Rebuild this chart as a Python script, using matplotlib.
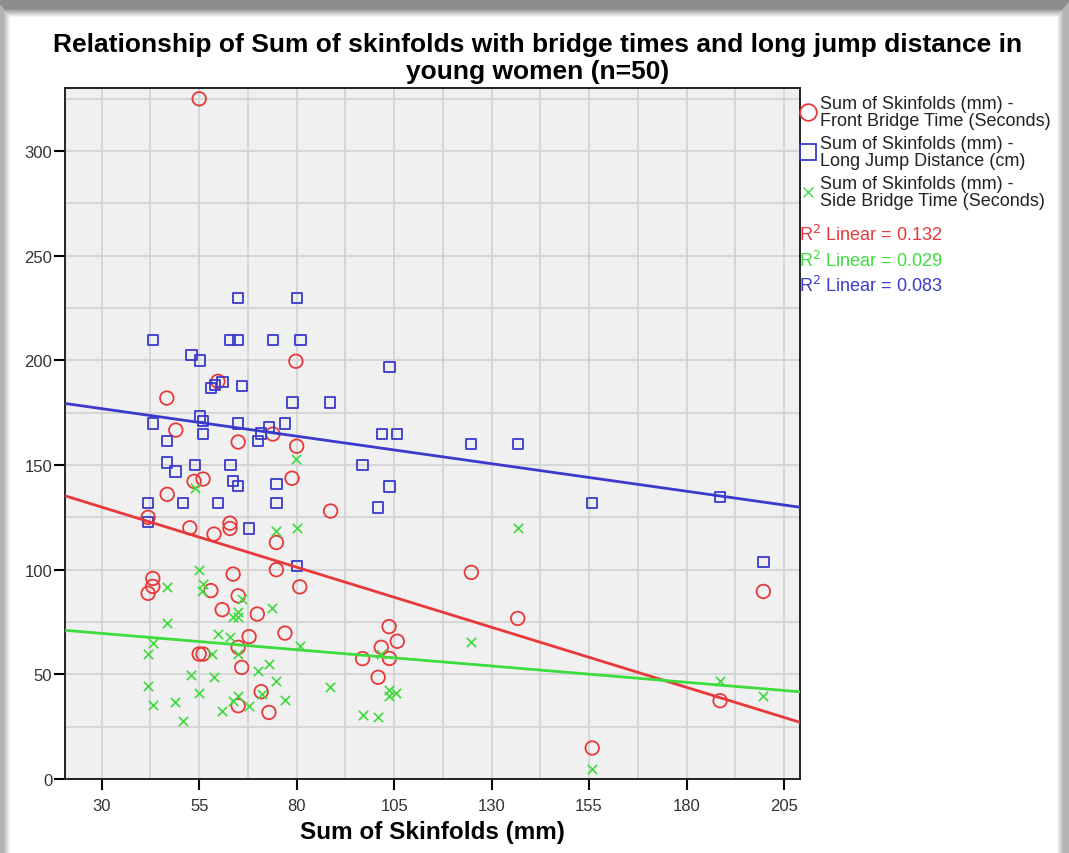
import numpy as np
import matplotlib
matplotlib.use("Agg")
import matplotlib.pyplot as plt
from matplotlib.lines import Line2D

plt.rcParams["font.family"] = ["Liberation Sans", "DejaVu Sans"]

# Front bridge time (s) vs sum of skinfolds (mm)
front_x = [55, 46.7, 49, 59.8, 79.8, 65, 73.9, 80, 78.8, 88.7, 46.8, 56, 53.7, 52.6, 41.9,
           58.8, 62.9, 62.9, 74.8, 74.8, 80.8, 43.1, 43.1, 41.9, 58, 63.7, 65, 60.9, 69.9,
           77, 67.8, 65, 55, 56, 65.9, 70.9, 65, 72.9, 124.8, 136.7, 103.7, 105.8, 101.7,
           96.9, 103.8, 100.9, 199.7, 188.6, 155.8]
front_y = [325, 182, 166.7, 190, 199.6, 161, 164.8, 159, 143.7, 128, 136, 143.3, 142.2, 120,
           125, 117, 122.2, 119.7, 113, 100, 91.8, 95.8, 92, 88.7, 90, 97.9, 87.5, 80.9, 78.8,
           69.7, 68, 62.9, 59.7, 59.7, 53.3, 41.7, 35, 31.8, 98.7, 76.7, 72.8, 65.8, 62.9,
           57.5, 57.6, 48.6, 89.6, 37.4, 14.8]

# Long jump distance (cm)
jump_x = [65, 80, 43.1, 62.9, 65, 74, 81, 53, 55.2, 58, 59, 61, 65.9, 78.9, 88.6, 43.1, 55.2,
          56, 56, 65, 72.9, 70.8, 70, 77, 46.8, 46.8, 48.9, 53.9, 63, 63.7, 65, 74.8, 74.8,
          59.9, 50.9, 41.9, 41.9, 67.8, 80, 103.8, 101.9, 105.8, 124.8, 136.7, 96.9, 103.8,
          100.9, 155.8, 188.6, 199.7]
jump_y = [229.7, 229.7, 209.8, 209.8, 209.8, 209.8, 209.8, 202.5, 200, 186.7, 188.2, 189.7,
          187.8, 179.9, 179.9, 169.8, 173.2, 171.1, 164.8, 169.8, 168.2, 165, 161.6, 169.8,
          161.6, 151.2, 146.9, 150, 150, 142.5, 140, 140.9, 131.8, 131.8, 131.8, 131.8, 122.9,
          119.7, 101.9, 196.9, 164.8, 164.8, 160, 160, 150, 139.8, 129.7, 131.7, 134.8, 103.8]

# Side bridge time (s)
side_x = [53.9, 79.8, 74.8, 80, 55, 46.8, 55.9, 55.6, 65.9, 73.8, 65, 63.7, 65, 46.8, 59.9,
          62.9, 43.1, 41.9, 58.2, 65, 80.8, 53, 58.8, 70, 72.9, 74.8, 41.9, 55, 65, 71, 43.1,
          48.9, 63.7, 67.8, 60.9, 77, 50.9, 88.6, 136.7, 124.8, 101.7, 103.8, 103.8, 105.6,
          96.9, 100.9, 188.6, 199.7, 155.8]
side_y = [138.8, 152.8, 118.6, 119.7, 100, 91.5, 93.1, 90, 86.2, 81.7, 79.6, 77.2, 77.2, 74.5,
          69.2, 68, 65, 59.7, 59.7, 59.7, 63.7, 49.8, 48.6, 51.7, 54.9, 46.6, 44.6, 40.9, 39.5,
          40.6, 35.5, 36.6, 37.4, 34.7, 32.6, 37.9, 27.8, 43.8, 119.7, 65.6, 59.7, 42.6, 39.8,
          40.9, 30.6, 29.5, 46.6, 39.8, 4.8]

r2_labels = ["0.132", "0.029", "0.083"]

RED, GREEN, BLUE = "#e8383a", "#3ddc3d", "#3a3acc"

fig = plt.figure(figsize=(10.69, 8.54), dpi=100)

# card shadow behind the chart
bg = fig.add_axes([0, 0, 1, 1], zorder=-10)
h, w = 854, 1069
yy, xx = np.mgrid[0:h, 0:w]
d_side = np.minimum(xx - 3, (w - 6) - xx) / 7.0
d_top = (yy - 9) / 9.0
shade = np.clip(np.minimum(d_side, d_top), 0, 1)
depth = np.where(d_top < d_side, 0.45, 0.3)
img = 1 - depth * (1 - shade)
bg.imshow(img, cmap="gray", vmin=0, vmax=1, aspect="auto", interpolation="bilinear")
bg.axis("off")

ax = fig.add_axes([0.0605, 0.0867, 0.6875, 0.8087])
ax.set_facecolor("#f0f0f0")
ax.set_xticks(np.arange(30, 206, 25))
ax.set_yticks(np.arange(0, 301, 50))
ax.set_xticks(np.arange(17.5, 210, 12.5), minor=True)
ax.set_yticks(np.arange(0, 330, 25), minor=True)
xlim = (20.5, 209)
ax.set_xlim(*xlim)
ax.set_ylim(0, 330)
ax.grid(True, which="both", color="#d4d4d4", lw=1.3)
ax.tick_params(which="minor", length=0)
ax.tick_params(which="major", direction="out", length=8, width=1.5, labelsize=12,
               labelcolor="#333333")
ax.tick_params(axis="x", pad=6)
ax.tick_params(axis="y", pad=1)
ax.set_axisbelow(True)
for s in ax.spines.values():
    s.set_linewidth(1.4)
    s.set_color("#222222")

ax.scatter(front_x, front_y, s=95, facecolors="none", edgecolors=RED, linewidths=1.3, zorder=3)
ax.scatter(jump_x, jump_y, s=55, marker="s", facecolors="none", edgecolors=BLUE,
           linewidths=1.3, zorder=3)
ax.scatter(side_x, side_y, s=45, marker="x", color=GREEN, linewidths=1.2, zorder=3)

xs = np.array(xlim)
for x, y, c in [(front_x, front_y, RED), (side_x, side_y, GREEN), (jump_x, jump_y, BLUE)]:
    k, b = np.polyfit(x, y, 1)
    ax.plot(xs, k * xs + b, color=c, lw=2, zorder=4)

ax.set_xlabel("Sum of Skinfolds (mm)", fontsize=17.5, fontweight="bold", labelpad=5)

fig.text(0.503, 0.961, "Relationship of Sum of skinfolds with bridge times and long jump distance in\nyoung women (n=50)",
         ha="center", va="top", fontsize=19, fontweight="bold", linespacing=1.15)

handles = [
    Line2D([], [], ls="none", marker="o", ms=12, mfc="none", mec=RED, mew=1.3),
    Line2D([], [], ls="none", marker="s", ms=11, mfc="none", mec=BLUE, mew=1.3),
    Line2D([], [], ls="none", marker="x", ms=7, mec=GREEN, mew=1.0),
]
labels = ["Sum of Skinfolds (mm) -\nFront Bridge Time (Seconds)",
          "Sum of Skinfolds (mm) -\nLong Jump Distance (cm)",
          "Sum of Skinfolds (mm) -\nSide Bridge Time (Seconds)"]
leg = fig.legend(handles, labels, loc="upper left", bbox_to_anchor=(0.7495, 0.888), frameon=False,
                 fontsize=13, handlelength=0.75, handletextpad=0.3, labelspacing=0.3,
                 borderaxespad=0, borderpad=0)
for t in leg.get_texts():
    t.set_linespacing(1.05)
    t.set_color("#222222")

for i, (lab, c) in enumerate(zip(r2_labels, [RED, GREEN, BLUE])):
    fig.text(0.7475, 0.7250 - i * 0.0300, f"R$^2$ Linear = {lab}", color=c, fontsize=13,
             ha="left", va="center")

fig.savefig("out.png", dpi=100, facecolor="white")
